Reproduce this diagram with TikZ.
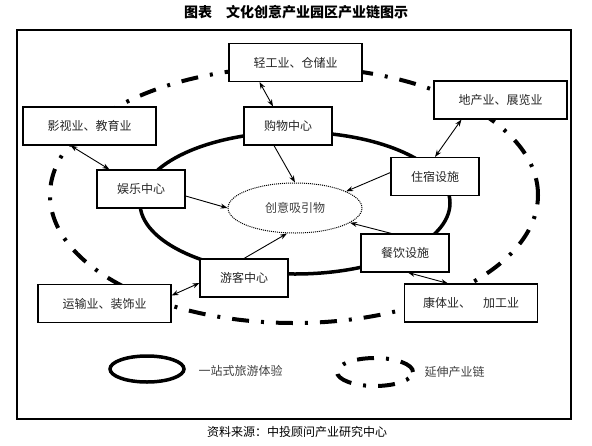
\documentclass[tikz,border=0pt]{standalone}
\usepackage{fontspec}
\setmainfont{Noto Sans CJK SC}
\usetikzlibrary{arrows.meta,shapes.geometric}

\begin{document}
\begin{tikzpicture}[x=1pt,y=-1pt,
    bigbox/.style={draw, fill=white, line width=1.1pt, inner sep=0pt,
        minimum width=133pt, minimum height=38pt,
        text=black!85, font=\fontsize{12}{14}\selectfont},
    smallbox/.style={bigbox, minimum width=88pt},
    label/.style={text=black!75, font=\fontsize{12}{14}\selectfont},
    link/.style={line width=0.9pt, -{Stealth[length=7pt,width=5pt]}},
    twoway/.style={line width=0.9pt, {Stealth[length=7pt,width=5pt]}-{Stealth[length=7pt,width=5pt]}},
    onestop/.style={line width=3.5pt},
    chain/.style={line width=4pt, dash pattern=on 17pt off 12pt on 3pt off 12pt}]
    \useasboundingbox (0,0) rectangle (592,445);

    % Title and frame
    \node[font=\fontsize{14}{16}\selectfont\bfseries] (title) at (296,12) {图表　文化创意产业园区产业链图示};
    \draw[line width=1.1pt] (17,30) rectangle (571,419);
    \node[font=\fontsize{12}{14}\selectfont] (source) at (297,432) {资料来源：中投顾问产业研究中心};

    % The two rings: extended chain (outside) and one-stop tour (inside)
    \draw[chain] (294,195) ellipse [x radius=244pt, y radius=128pt];
    \draw[onestop] (295,203) ellipse [x radius=155pt, y radius=71pt];

    % Core attraction
    \node[ellipse, draw, densely dotted, line width=1pt, fill=white,
        minimum width=134pt, minimum height=50pt, inner sep=0pt,
        label] (core) at (295,208) {创意吸引物};

    % Boxes on the inner ring
    \node[smallbox] (shop)    at (288,126)   {购物中心};
    \node[smallbox] (fun)     at (141,189)   {娱乐中心};
    \node[smallbox] (hotel)   at (435,176.5) {住宿设施};
    \node[smallbox] (food)    at (405,253)   {餐饮设施};
    \node[smallbox] (visitor) at (244,278)   {游客中心};

    % Boxes on the outer ring
    \node[bigbox] (light)     at (295.5,62.5) {轻工业、仓储业};
    \node[bigbox] (estate)    at (500.5,100)  {地产业、展览业};
    \node[bigbox] (film)      at (89.5,126)   {影视业、教育业};
    \node[bigbox] (transport) at (104.5,303.5) {运输业、装饰业};
    \node[bigbox] (health)    at (471,303)    {康体业、　加工业};

    % Links between the rings
    \draw[twoway] ([xshift=-36pt]light.south) -- ([xshift=-15pt]shop.north);
    \draw[twoway] ([xshift=28pt]estate.south west) -- (hotel.north);
    \draw[twoway] ([xshift=-19pt]film.south) -- ([xshift=13pt]fun.north west);
    \draw[twoway] ([xshift=3pt]food.south) -- ([xshift=-23pt]health.north);
    \draw[twoway] ([yshift=8pt]transport.east) -- ([yshift=-5pt]visitor.west);

    % Links into the core
    \draw[link] ([xshift=-14pt]shop.south) -- (core.north);
    \draw[link] ([yshift=4pt]hotel.west) -- (core.18);
    \draw[link] ([xshift=31pt]food.north west) -- (core.345);
    \draw[link] ([yshift=-7pt]fun.east) -- (core.west);
    \draw[link] (visitor.north) -- ([xshift=-8pt]core.south);

    % Legend
    \draw[onestop] (147,369) ellipse [x radius=37pt, y radius=13pt];
    \node[label, anchor=west] (onestoptext) at (195,371) {一站式旅游体验};
    \draw[chain] (375,372) ellipse [x radius=38pt, y radius=14pt];
    \node[label, anchor=west] (chaintext) at (421,372) {延伸产业链};
\end{tikzpicture}
\end{document}
